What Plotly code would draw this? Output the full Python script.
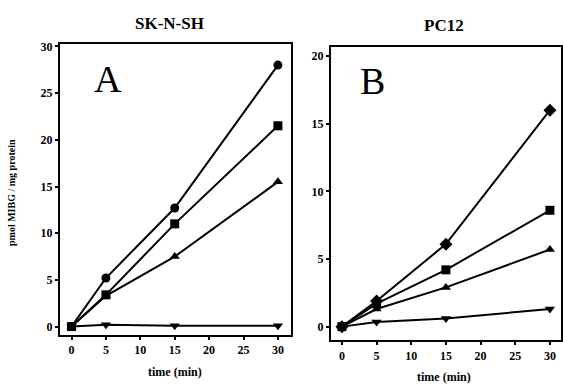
import plotly.graph_objects as go

time = [0, 5, 15, 30]

# Panel A: SK-N-SH
a_circle = [0, 5.2, 12.7, 28.0]
a_square = [0, 3.4, 11.0, 21.5]
a_tri_up = [0, 3.3, 7.5, 15.5]
a_tri_dn = [0, 0.2, 0.1, 0.1]

# Panel B: PC12
b_diamond = [0, 1.9, 6.1, 16.0]
b_square = [0, 1.7, 4.2, 8.6]
b_tri_up = [0, 1.3, 2.9, 5.7]
b_tri_dn = [0, 0.35, 0.6, 1.3]

x_ticks = [0, 5, 10, 15, 20, 25, 30]
a_yticks = [0, 5, 10, 15, 20, 25, 30]
b_yticks = [0, 5, 10, 15, 20]

fig = go.Figure()

def add(xa, ya, ys, sym, size=9):
    fig.add_trace(go.Scatter(
        x=time, y=ys, mode="lines+markers", xaxis=xa, yaxis=ya,
        line=dict(color="black", width=2),
        marker=dict(symbol=sym, size=size, color="black"),
        showlegend=False, cliponaxis=False))

add("x", "y", a_circle, "circle")
add("x", "y", a_square, "square")
add("x", "y", a_tri_up, "triangle-up")
add("x", "y", a_tri_dn, "triangle-down")
add("x2", "y2", b_diamond, "diamond", 10)
add("x2", "y2", b_square, "square")
add("x2", "y2", b_tri_up, "triangle-up")
add("x2", "y2", b_tri_dn, "triangle-down")

tickfont = dict(family="Liberation Serif", size=12, color="black")
axcommon = dict(showgrid=False, zeroline=False, showline=True, linecolor="black",
                linewidth=2, mirror=True, ticks="outside", ticklen=3, tickwidth=1.5,
                tickcolor="black", tickfont=tickfont)

def bold(vals):
    return [f"<b>{v}</b>" for v in vals]

fig.update_layout(
    width=563, height=385, margin=dict(l=0, r=0, t=0, b=0),
    paper_bgcolor="white", plot_bgcolor="white",
    xaxis=dict(domain=[0.1066, 0.5187], range=[-1.7, 31.9], tickvals=x_ticks,
               ticktext=bold(x_ticks), anchor="y", **axcommon),
    yaxis=dict(domain=[0.1325, 0.896], range=[-0.85, 30.3], tickvals=a_yticks,
               ticktext=bold(a_yticks), anchor="x", **axcommon),
    xaxis2=dict(domain=[0.5897, 1.0], range=[-1.6, 31.6], tickvals=x_ticks,
                ticktext=bold(x_ticks), anchor="y2", **axcommon),
    yaxis2=dict(domain=[0.117, 0.888], range=[-1.02, 20.7], tickvals=b_yticks,
                ticktext=bold(b_yticks), anchor="x2", **axcommon),
)

titlefont = dict(family="Liberation Serif", size=17, color="black")
smallfont = dict(family="Liberation Serif", size=12, color="black")
letterfont = dict(family="Liberation Serif", size=38, color="black")

ann = [
    dict(text="<b>SK-N-SH</b>", x=170/563, y=1-20/385, font=titlefont),
    dict(text="<b>PC12</b>", x=446/563, y=1-22/385, font=titlefont),
    dict(text="A", x=108/563, y=1-76/385, font=letterfont),
    dict(text="B", x=374/563, y=1-78/385, font=letterfont),
    dict(text="<b>time (min)</b>", x=176/563, y=1-372/385, font=smallfont),
    dict(text="<b>time (min)</b>", x=446/563, y=1-377/385, font=smallfont),
    dict(text="<b>pmol MIBG / mg protein</b>", x=11/563, y=1-190/385,
         font=dict(family="Liberation Serif", size=10, color="black"), textangle=-90),
]
for a in ann:
    fig.add_annotation(xref="paper", yref="paper", showarrow=False,
                       xanchor="center", yanchor="middle", **a)

fig.write_html("out.html")
